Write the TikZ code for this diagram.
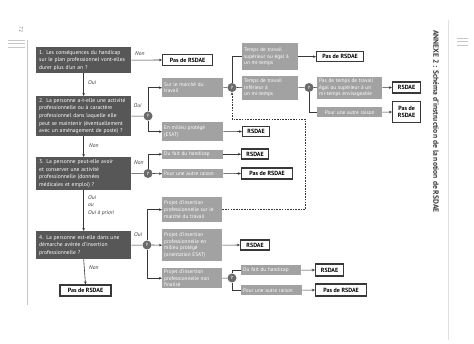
\documentclass[tikz,border=0pt]{standalone}
\usepackage{fontspec}
\setmainfont{PT Sans}
\usetikzlibrary{arrows.meta}
\definecolor{qdark}{HTML}{575757}
\definecolor{qlight}{HTML}{A2A2A2}
\definecolor{qcirc}{HTML}{6A6A6A}
\definecolor{qline}{HTML}{383838}
\begin{document}
\begin{tikzpicture}[x=1pt,y=-1pt,
  qbox/.style={fill=qdark,text=white,font=\fontsize{5.6}{7.6}\selectfont,align=left,anchor=north west,inner xsep=3pt,inner ysep=0pt,text width=89pt},
  lbox/.style={fill=qlight,text=white,font=\fontsize{5.3}{6.6}\selectfont,align=left,anchor=north west,inner xsep=2pt,inner ysep=0pt},
  obox/.style={fill=white,draw=qline,line width=1.2pt,font=\bfseries\fontsize{6}{6.8}\selectfont,align=center,anchor=west,inner sep=0pt},
  circ/.style={circle,fill=qcirc,minimum size=9pt,inner sep=0pt,text=white,font=\bfseries\fontsize{4.5}{5}\selectfont},
  lab/.style={font=\itshape\fontsize{5.6}{7.8}\selectfont,text=qline,anchor=west,inner sep=0pt,align=left},
  conn/.style={draw=qline,line width=0.6pt},
  arr/.style={conn,-{Stealth[length=3pt,width=2.6pt]}},
  deco/.style={draw=gray!45,line width=0.6pt}
]
\useasboundingbox (0,0) rectangle (474,344);
% page decorations
\draw[deco] (27,40) -- (27,305);
\draw[deco] (8,40) -- (25,40) (8,43.5) -- (25,43.5) (8,47) -- (25,47);
\draw[deco] (457,38) -- (468,38) (457,41.5) -- (468,41.5) (457,45) -- (468,45);
\draw[draw=gray!25,line width=0.5pt] (448,20) -- (448,340);
\node[rotate=-90,font=\fontsize{5.5}{6}\selectfont,text=gray] (pnum) at (21,30) {72};
\node[rotate=-90,anchor=west,font=\bfseries\fontsize{7.6}{8}\selectfont,text=qline,inner sep=0pt] (title) at (436,30) {ANNEXE 2 : Schéma d'instruction de la notion de RSDAE};

% questions
\node[qbox,minimum height=26pt] (b1) at (36,47) {1. Les conséquences du handicap\\sur le plan professionnel vont-elles\\durer plus d'un an ?};
\node[qbox,minimum height=40pt] (b2) at (36,96) {2. La personne a-t-elle une activité\\professionnelle ou à caractère\\professionnel dans laquelle elle\\peut se maintenir (éventuellement\\avec un aménagement de poste) ?};
\node[qbox,minimum height=33pt] (b3) at (36,157) {3. La personne peut-elle avoir\\et conserver une activité\\professionnelle (données\\médicales et emploi) ?};
\node[qbox,minimum height=28pt] (b4) at (36,231) {4. La personne est-elle dans une\\démarche avérée d'insertion\\professionnelle ?};

% light boxes
\node[lbox,text width=57pt,minimum height=19pt] (sur) at (162,78) {Sur le marché du\\travail};
\node[lbox,text width=57pt,minimum height=19pt] (esat) at (162,122) {En milieu protégé\\(ESAT)};
\node[lbox,text width=52pt,minimum height=27pt] (tsup) at (242,43) {Temps de travail\\supérieur ou égal à\\un mi-temps};
\node[lbox,text width=52pt,minimum height=24pt] (tinf) at (242,75.5) {Temps de travail\\inférieur à\\un mi-temps};
\node[lbox,text width=61pt,minimum height=22pt] (ptemps) at (317,76.5) {Pas de temps de travail\\égal ou supérieur à un\\mi-temps envisageable};
\node[lbox,text width=61pt,minimum height=10pt,align=center] (autre1) at (317,107) {Pour une autre raison};
\node[lbox,text width=57pt,minimum height=9pt] (fait1) at (162,149.5) {Du fait du handicap};
\node[lbox,text width=57pt,minimum height=9pt] (autre2) at (162,169) {Pour une autre raison};
\node[lbox,text width=56pt,minimum height=25pt] (proj1) at (162,197) {Projet d'insertion\\professionnelle sur le\\marché du travail};
\node[lbox,text width=56pt,minimum height=32pt] (proj2) at (162,229) {Projet d'insertion\\professionnelle en\\milieu protégé\\(orientation ESAT)};
\node[lbox,text width=56pt,minimum height=20pt] (proj3) at (162,268) {Projet d'insertion\\professionnelle non\\finalisé};
\node[lbox,text width=56pt,minimum height=10pt] (fait2) at (241,265) {Du fait du handicap};
\node[lbox,text width=57pt,minimum height=10pt] (autre3) at (241,285) {Pour une autre raison};

% outcomes
\node[obox,minimum width=50pt,minimum height=11pt] (o1) at (162,60) {Pas de RSDAE};
\node[obox,minimum width=27pt,minimum height=10pt] (o2) at (242,131.5) {RSDAE};
\node[obox,minimum width=47pt,minimum height=10pt] (o3) at (316,56.5) {Pas de RSDAE};
\node[obox,minimum width=28pt,minimum height=11pt] (o4) at (392,87.5) {RSDAE};
\node[obox,minimum width=28pt,minimum height=21pt] (o5) at (392,112) {Pas de\\RSDAE};
\node[obox,minimum width=27pt,minimum height=10pt] (o6) at (241,154) {RSDAE};
\node[obox,minimum width=51pt,minimum height=11pt] (o7) at (241,173.5) {Pas de RSDAE};
\node[obox,minimum width=29pt,minimum height=10pt] (o8) at (240,245) {RSDAE};
\node[obox,minimum width=28pt,minimum height=12pt] (o9) at (315,270) {RSDAE};
\node[obox,minimum width=51pt,minimum height=12pt] (o10) at (315,290) {Pas de RSDAE};
\node[obox,minimum width=51pt,minimum height=11pt,anchor=center] (o11) at (85.5,290.5) {Pas de RSDAE};

% circles
\node[circ] (c1) at (148,116) {?};
\node[circ] (c2) at (232,87.5) {?};
\node[circ] (c3) at (309,87.5) {?};
\node[circ] (c4) at (148,173.5) {?};
\node[circ] (c5) at (147,245) {?};
\node[circ] (c6) at (232,278) {?};

% main flow
\draw[arr] (b1.south) -- (b2.north);
\draw[arr] (b2.south) -- (b3.north);
\draw[arr] (b3.south) -- (b4.north);
\draw[arr] (b4.south) -- (o11.north);
\draw[arr] (b1.east) -- (o1.west);

% question 2
\draw[conn] (b2.east) -- (c1);
\draw[arr] (c1.north) |- (sur.west);
\draw[arr] (c1.south) |- (esat.west);
\draw[arr] (esat.east) -- (o2.west);
\draw[conn] (sur.east) -- (c2);
\draw[conn] (c2.north) |- (tsup.west);
\draw[conn] (c2.east) -- (tinf.west);
\draw[arr] (tsup.east) -- (tsup.east -| o3.west);
\draw[conn] (tinf.east) -- (c3);
\draw[conn] (c3.east) -- (ptemps.west);
\draw[conn] (c3.south) |- (autre1.west);
\draw[arr] (ptemps.east) -- (o4.west);
\draw[arr] (autre1.east) -- (o5.west);

% question 3
\draw[conn] (b3.east) -- (c4);
\draw[arr] (c4.north) |- (fait1.west);
\draw[arr] (c4.east) -- (autre2.west);
\draw[arr] (fait1.east) -- (fait1.east -| o6.west);
\draw[arr] (autre2.east) -- (o7.west);

% question 4
\draw[conn] (b4.east) -- (c5);
\draw[arr] (c5.north) |- (proj1.west);
\draw[arr] (c5.east) -- (proj2.west);
\draw[arr] (c5.south) |- (proj3.west);
\draw[arr] (proj2.east) -- (o8.west);
\draw[conn] (proj3.east) -- (c6);
\draw[conn] (c6.north) |- (fait2.west);
\draw[conn] (c6.south) |- (autre3.west);
\draw[arr] (fait2.east) -- (o9.west);
\draw[arr] (autre3.east) -- (o10.west);

% dashed return
\coordinate (d1) at (305,119);
\draw[arr,dash pattern=on 1.6pt off 1.1pt] (proj1.east) -| (d1) -- (c2.south |- d1) -- (c2.south);

% labels
\node[lab] (l1) at (135,54) {Non};
\node[lab] (l2) at (88,83) {Oui};
\node[lab] (l3) at (133.5,106) {Oui};
\node[lab] (l4) at (89,146) {Non};
\node[lab] (l5) at (134,163) {Non};
\node[lab,anchor=north west] (l6) at (88,195) {Oui\\ou\\Oui à priori};
\node[lab] (l7) at (134,235) {Oui};
\node[lab] (l8) at (89,268) {Non};
\end{tikzpicture}
\end{document}
